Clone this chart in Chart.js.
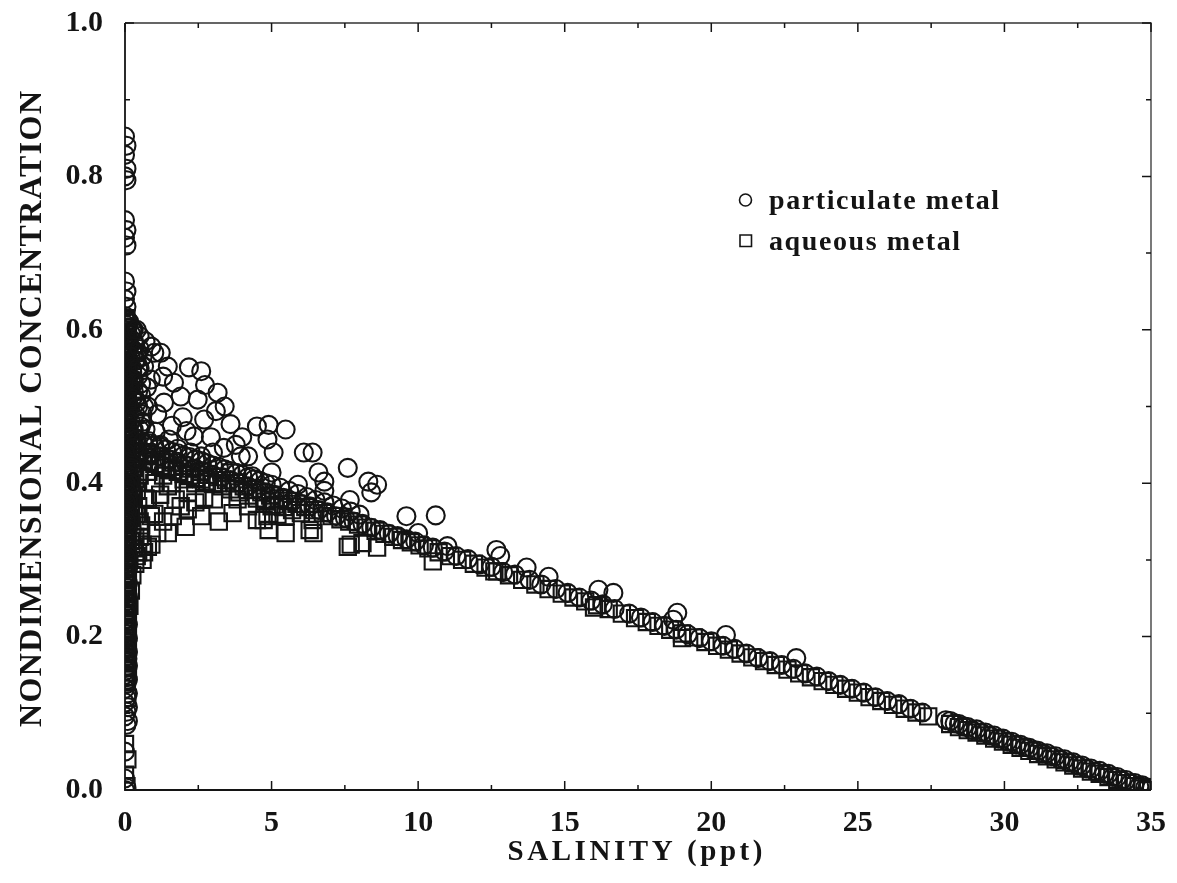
<!DOCTYPE html>
<html lang="en">
<head>
    <meta charset="UTF-8">
    <script src="https://cdn.jsdelivr.net/npm/chart.js"></script>
    <title>salinity</title>
    <style>
        body{ margin:0; background:#fff; }
        #chart_area{ width:1177px; height:883px; }
    </style>
</head>
<body>
    <div id="chart_area">
        <canvas id="mychart"></canvas>
    </div>
    <script>
        // particulate metal (circles)
        let particulateSalinity = [
            // stack at zero salinity
            0,0.05,0,0.05,0,0.05, 0,0.05,0,0.05, 0,0.05,0,0.05,
            0,0.1,0.05,0,0.1,0.05,0,0.1,0.05,0,0.1,0.05,0,0.1,0.05,0,0.1,0.05,0,0.1,0.05,0,0.1,0.05,0,0.1,0.05,0,0.1,0.05,
            0,0.1,0.05,0,0.1,0.05,0,0.1,0.05,0,0.1,0.05,0,0.1,0.05,0,0.1,0.05,0,0.1,0.05,0,0.1,0.05,0,0.1,0.05,0,0.1,0.05,
            0,0.1,0.05,0,0.1,0.05,0,0.1,0.05,0,0.1,0.05,0,0.1,0.05,0,0.1,0.05,0,0.1,0.05,0,0.1,0.05,0,0.1,0.05,0,0.1,0.05,
            0,0,0.05,0,
            0.03,0.08,0.03,0.08,0.03,0.08,0.03,0.08,0.03,0.08,0.03,0.08,0.03,0.08,0.03,0.08,0.03,0.08,0.03,0.08,
            0.03,0.08,0.03,0.08,0.03,0.08,0.03,0.08,0.03,0.08,0.03,0.08,0.03,0.08,0.03,0.08,0.03,0.08,0.03,0.08,
            0.15,0.2,0.3,0.15,0.25,0.35,0.45,0.15,0.25,0.4,0.2,0.3,0.5,0.15,0.35,0.2,0.45,0.3,0.15,0.25,0.6,0.4,0.2,0.35,0.15,
            // scatter above the mixing line
            0.3,0.5,0.7,0.9,0.35,0.6,1.0,1.22,0.45,0.65,0.88,1.3,1.46,2.18,1.67,0.3,0.55,0.78,1.9,2.48,3.16,3.1,1.33,0.35,0.6,1.97,2.7,3.6,
            0.54,1.05,1.5,2.35,2.93,3.78,4.5,4.9,5.48,4.86,5.07,4.2,2.24,3.0,3.37,3.95,6.1,6.4,6.6,6.8,7.6,8.3,8.6,8.4,9.6,10.6,
            4.35,5.0,5.9,0.3,0.8,1.2,1.8,2.6,0.25,0.4,0.2,0.2,0.75,1.1,1.6,2.1,0.9,2.73,2.6,3.4,4.0,6.8,7.67,
            0.25,0.4,0.3,0.5,0.25,0.45,0.3,0.55,0.25,0.45,0.65,0.3,0.5,0.7,0.25,
            // mixing line
            0.2,0.4,0.6,0.8,1.0,1.2,1.4,1.6,1.8,2.0,2.2,2.4,2.6,2.8,3.0,3.2,3.4,3.6,3.8,4.0,4.2,4.4,4.6,4.8,5.0,5.3,5.6,5.9,6.2,6.5,6.8,7.1,7.4,7.7,8.0,
            0.3,0.6,0.9,1.2,1.5,1.8,2.1,2.4,2.7,3.0,3.3,3.6,3.9,4.2,4.5,4.8,5.1,5.4,5.7,6.0,6.3,6.6,6.9,7.2,7.5,7.8,8.1,8.4,8.7,9.0,9.3,9.6,9.9,
            10.2,10.5,10.9,11.3,11.7,12.1,12.5,12.9,13.3,13.8,14.2,14.7,15.1,15.5,15.9,16.3,16.7,17.2,17.6,18.0,18.4,18.8,19.2,19.6,
            20.0,20.4,20.8,21.2,21.6,22.0,22.4,22.8,23.2,23.6,24.0,24.4,24.8,25.2,25.6,26.0,26.4,26.8,27.2,
            28.0,28.3,28.6,28.9,29.2,29.5,29.8,30.1,30.4,30.7,31.0,31.3,31.6,31.9,32.2,32.5,32.8,33.1,33.4,33.7,34.0,34.3,34.6,34.8,35.0,
            28.15,28.45,28.75,29.05,29.35,29.65,29.95,30.25,30.55,30.85,31.15,31.45,31.75,32.05,32.35,32.65,32.95,33.25,33.55,33.85,34.15,34.45,34.7,34.9,
            12.67,12.8,13.7,14.45,16.15,16.66,18.84,18.7,20.5,22.9,10.0,11.0
        ];
        let particulateConc = [
            0.852,0.84,0.828,0.81,0.80,0.795, 0.743,0.73,0.72,0.71, 0.663,0.65,0.64,0.63,
            0.618,0.612,0.606,0.600,0.594,0.588,0.582,0.576,0.570,0.564,0.558,0.552,0.546,0.540,0.534,0.528,0.522,0.516,0.510,0.504,0.498,0.492,0.486,0.480,0.474,0.468,0.462,0.456,0.450,0.444,
            0.438,0.432,0.426,0.420,0.414,0.408,0.402,0.396,0.390,0.384,0.378,0.372,0.366,0.360,0.354,0.348,0.342,0.336,0.330,0.324,0.318,0.312,0.306,0.300,0.294,0.288,0.282,0.276,0.270,0.264,
            0.258,0.252,0.246,0.240,0.234,0.228,0.222,0.216,0.210,0.204,0.198,0.192,0.186,0.180,0.174,0.168,0.162,0.156,0.150,0.144,0.138,0.132,0.126,0.120,0.114,0.108,0.102,0.096,0.090,0.085,
            0.05,0.015,0.003,0.0,
            0.615,0.603,0.591,0.579,0.567,0.555,0.543,0.531,0.519,0.507,0.495,0.483,0.471,0.459,0.447,0.435,0.423,0.411,0.399,0.387,
            0.375,0.363,0.351,0.339,0.327,0.315,0.303,0.291,0.279,0.267,0.255,0.243,0.231,0.219,0.207,0.195,0.183,0.171,0.159,0.147,
            0.61,0.595,0.6,0.58,0.575,0.58,0.57,0.555,0.545,0.56,0.525,0.535,0.55,0.5,0.51,0.48,0.52,0.46,0.465,0.44,0.49,0.45,0.42,0.43,0.4,
            0.585,0.592,0.585,0.578,0.56,0.565,0.57,0.57,0.54,0.552,0.535,0.539,0.552,0.551,0.531,0.52,0.515,0.5,0.513,0.509,0.518,0.494,0.505,0.49,0.48,0.486,0.483,0.477,
            0.474,0.467,0.457,0.461,0.46,0.45,0.474,0.476,0.47,0.457,0.44,0.435,0.44,0.44,0.446,0.435,0.44,0.44,0.414,0.402,0.42,0.402,0.398,0.388,0.357,0.358,
            0.409,0.414,0.398,0.47,0.455,0.45,0.445,0.435,0.45,0.505,0.535,0.565,0.525,0.49,0.475,0.468,0.44,0.528,0.546,0.5,0.46,0.39,0.378,
            0.6,0.6,0.57,0.575,0.55,0.55,0.53,0.53,0.51,0.5,0.5,0.485,0.47,0.47,0.47,
            0.459,0.457,0.454,0.452,0.449,0.447,0.444,0.441,0.439,0.436,0.434,0.431,0.429,0.426,0.423,0.421,0.418,0.416,0.413,0.411,0.408,0.405,0.403,0.400,0.398,0.394,0.390,0.386,0.382,0.378,0.375,0.371,0.367,0.363,0.359,
            0.446,0.442,0.439,0.435,0.431,0.428,0.423,0.419,0.416,0.411,0.408,0.404,0.401,0.396,0.393,0.388,0.385,0.381,0.376,0.373,0.370,0.365,0.362,0.357,0.355,0.350,0.347,0.342,0.339,0.334,0.331,0.327,0.324,
            0.319,0.316,0.311,0.305,0.301,0.294,0.291,0.284,0.281,0.274,0.268,0.262,0.257,0.251,0.247,0.242,0.236,0.230,0.225,0.219,0.214,0.209,0.203,0.198,
            0.194,0.188,0.184,0.178,0.172,0.168,0.163,0.158,0.152,0.148,0.142,0.137,0.132,0.127,0.121,0.116,0.112,0.106,0.101,
            0.091,0.087,0.083,0.078,0.075,0.071,0.067,0.063,0.059,0.056,0.052,0.048,0.044,0.040,0.036,0.032,0.028,0.024,0.021,0.017,0.013,0.009,0.005,0.003,0.001,
            0.090,0.086,0.082,0.079,0.075,0.071,0.067,0.063,0.059,0.055,0.051,0.048,0.044,0.040,0.036,0.032,0.028,0.025,0.021,0.017,0.013,0.009,0.006,0.003,
            0.313,0.305,0.29,0.278,0.261,0.257,0.231,0.222,0.202,0.172,0.335,0.318
        ];

        // aqueous metal (squares)
        let aqueousSalinity = [
            // stack at zero salinity
            0.05,0,0.1,0.05,0,0.1,0.05,0,0.1,0.05,0,0.1,0.05,0,0.1,0.05,0,0.1,0.05,0,0.1,0.05,0,0.1,0.05,0,0.1,0.05,0,0.1,
            0.05,0,0.1,0.05,0,0.1,0.05,0,0.1,0.05,0,0.1,0.05,0,0.1,0.05,0,0.1,0.05,0,0.1,0.05,0,0.1,0.05,0,0.1,0.05,0,0.1,
            0.05,0,0.1,0.05,0,0.1,0.05,0,0.1,0.05,0,0.1,0.05,0,0.1,0.05,0,0.1,0.05,
            0,0.08,0,0.08,0,0.05,
            0.15,0.25,0.35,0.2,0.3,0.45,0.15,0.25,0.4,0.55,0.2,0.3,0.5,0.65,0.15,0.35,0.45,0.25,0.2,0.15,
            // scatter below the mixing line
            0.3,0.5,0.8,1.0,1.3,1.6,2.0,2.4,0.4,0.7,1.2,0.3,0.5,0.35,0.6,0.4,1.0,1.3,0.9,0.78,0.88,1.1,0.78,1.46,1.73,1.63,1.46,0.6,
            2.14,3.16,3.6,2.7,3.03,2.14,2.6,3.2,3.67,2.07,3.84,4.5,4.86,4.9,5.48,5.48,6.3,6.4,7.6,8.1,8.6,10.5,4.73,5.2,6.43,7.7,
            12.6,16.0,19.0,1.9,2.4,4.2,5.0,0.2,0.25,0.2,0.25,0.3,0.4,
            // mixing line
            0.2,0.4,0.6,0.8,1.0,1.2,1.4,1.6,1.8,2.0,2.2,2.4,2.6,2.8,3.0,3.3,3.6,3.9,4.2,4.5,4.8,5.1,5.4,5.7,6.0,
            0.45,0.75,1.05,1.35,1.65,1.95,2.25,2.55,2.85,3.15,3.45,3.75,4.05,4.35,4.65,4.95,5.25,5.55,5.85,6.15,6.45,6.75,7.05,7.35,7.65,7.95,
            8.25,8.55,8.85,9.15,9.45,9.75,10.05,10.35,10.7,11.1,11.5,11.9,12.3,12.7,13.1,13.55,14.0,14.45,14.9,15.3,15.7,16.1,16.5,16.95,
            17.4,17.8,18.2,18.6,19.0,19.4,19.8,20.2,20.6,21.0,21.4,21.8,22.2,22.6,23.0,23.4,23.8,24.2,24.6,25.0,25.4,25.8,26.2,26.6,27.0,27.4,
            28.15,28.45,28.75,29.05,29.35,29.65,29.95,30.25,30.55,30.85,31.15,31.45,31.75,32.05,32.35,32.65,32.95,33.25,33.55,33.85,34.15,34.45,34.7,34.9
        ];
        let aqueousConc = [
            0.615,0.609,0.603,0.597,0.591,0.585,0.579,0.573,0.567,0.561,0.555,0.549,0.543,0.537,0.531,0.525,0.519,0.513,0.507,0.501,0.495,0.489,0.483,0.477,0.471,0.465,0.459,0.453,0.447,0.441,
            0.435,0.429,0.423,0.417,0.411,0.405,0.399,0.393,0.387,0.381,0.375,0.369,0.363,0.357,0.351,0.345,0.339,0.333,0.327,0.321,0.315,0.309,0.303,0.297,0.291,0.285,0.279,0.273,0.267,0.261,
            0.255,0.249,0.243,0.237,0.231,0.225,0.219,0.213,0.207,0.201,0.195,0.189,0.183,0.177,0.171,0.165,0.159,0.153,0.147,
            0.14,0.12,0.06,0.04,0.02,0.005,
            0.41,0.395,0.405,0.375,0.385,0.37,0.355,0.345,0.36,0.345,0.325,0.315,0.33,0.31,0.3,0.295,0.31,0.28,0.26,0.24,
            0.42,0.41,0.415,0.40,0.41,0.40,0.405,0.40,0.39,0.38,0.385,0.37,0.35,0.33,0.32,0.305,0.36,0.35,0.32,0.379,0.357,0.335,0.317,0.396,0.379,0.357,0.335,0.30,
            0.388,0.40,0.414,0.381,0.379,0.366,0.357,0.35,0.361,0.343,0.379,0.352,0.357,0.339,0.335,0.357,0.339,0.352,0.317,0.322,0.316,0.298,0.352,0.359,0.335,0.32,
            0.285,0.238,0.198,0.37,0.375,0.37,0.37,0.40,0.38,0.355,0.33,0.45,0.44,
            0.435,0.433,0.430,0.428,0.425,0.423,0.420,0.417,0.415,0.412,0.410,0.407,0.405,0.402,0.399,0.396,0.392,0.388,0.384,0.380,0.376,0.372,0.369,0.365,0.361,
            0.442,0.438,0.435,0.431,0.427,0.423,0.419,0.415,0.411,0.408,0.404,0.400,0.396,0.392,0.388,0.384,0.380,0.377,0.373,0.369,0.365,0.361,0.357,0.353,0.350,0.346,
            0.342,0.338,0.334,0.330,0.326,0.323,0.319,0.315,0.310,0.305,0.300,0.295,0.290,0.285,0.280,0.274,0.268,0.262,0.256,0.251,0.246,0.241,0.236,0.230,
            0.224,0.219,0.214,0.209,0.204,0.199,0.193,0.188,0.183,0.178,0.173,0.168,0.163,0.157,0.152,0.147,0.142,0.137,0.132,0.127,0.121,0.116,0.111,0.106,0.101,0.096,
            0.086,0.082,0.078,0.075,0.071,0.067,0.063,0.059,0.055,0.051,0.047,0.044,0.040,0.036,0.032,0.028,0.024,0.021,0.017,0.013,0.009,0.005,0.002,0.000
        ];

        let xTitle = "SALINITY (ppt)";
        let yTitle = "NONDIMENSIONAL CONCENTRATION";
        let legendLabels = ["particulate metal", "aqueous metal"];

        const serif = "'Liberation Serif', 'Times New Roman', serif";
        const ink = "#141414";

        function toPoints(xs, ys){
            return xs.map((x, i) => ({x: x, y: ys[i]}));
        }

        function spacedText(ctx, text, x, y, target){
            ctx.letterSpacing = "0px";
            let w = ctx.measureText(text).width;
            let ls = (target - w) / (text.length - 1);
            ctx.letterSpacing = ls + "px";
            ctx.textAlign = "left";
            ctx.fillText(text, x - target / 2, y);
            ctx.letterSpacing = "0px";
        }

        // frame and inward ticks on all four sides
        const framePlugin = {
            id: "frame",
            beforeDatasetsDraw(chart){
                const ctx = chart.ctx;
                const a = chart.chartArea;
                const xs = chart.scales.x, ys = chart.scales.y;
                ctx.save();
                ctx.strokeStyle = ink;
                ctx.lineWidth = 1.8;
                ctx.beginPath();
                ctx.moveTo(a.left, a.top); ctx.lineTo(a.left, a.bottom); ctx.lineTo(a.right, a.bottom);
                ctx.stroke();
                ctx.strokeStyle = "#333";
                ctx.lineWidth = 1.3;
                ctx.beginPath();
                ctx.moveTo(a.left, a.top); ctx.lineTo(a.right, a.top); ctx.lineTo(a.right, a.bottom);
                ctx.stroke();
                ctx.lineWidth = 1.5;
                ctx.strokeStyle = ink;
                for(let v = 0; v <= 35.001; v += 2.5){
                    let px = xs.getPixelForValue(v);
                    let len = (Math.round(v * 10) % 50 === 0) ? 9 : 5;
                    ctx.beginPath();
                    ctx.moveTo(px, a.bottom); ctx.lineTo(px, a.bottom - len);
                    ctx.moveTo(px, a.top); ctx.lineTo(px, a.top + len);
                    ctx.stroke();
                }
                for(let k = 0; k <= 10; k++){
                    let py = ys.getPixelForValue(k / 10);
                    let len = (k % 2 === 0) ? 9 : 5;
                    ctx.beginPath();
                    ctx.moveTo(a.left, py); ctx.lineTo(a.left + len, py);
                    ctx.moveTo(a.right, py); ctx.lineTo(a.right - len, py);
                    ctx.stroke();
                }
                ctx.restore();
            },
            afterDraw(chart){
                const ctx = chart.ctx;
                ctx.save();
                ctx.fillStyle = ink;
                ctx.textBaseline = "alphabetic";
                // axis titles
                ctx.font = "bold 29px " + serif;
                spacedText(ctx, xTitle, 635, 860, 255);
                ctx.save();
                ctx.translate(41, 409);
                ctx.rotate(-Math.PI / 2);
                ctx.font = "bold 32px " + serif;
                spacedText(ctx, yTitle, 0, 0, 636);
                ctx.restore();
                // legend
                ctx.strokeStyle = ink;
                ctx.lineWidth = 1.6;
                ctx.beginPath();
                ctx.arc(745.5, 200, 6, 0, Math.PI * 2);
                ctx.stroke();
                ctx.beginPath();
                ctx.rect(740, 235, 11.5, 11.5);
                ctx.stroke();
                ctx.font = "bold 28px " + serif;
                ctx.textAlign = "left";
                ctx.letterSpacing = "1.6px";
                ctx.fillText(legendLabels[0], 769, 209);
                ctx.fillText(legendLabels[1], 769, 250);
                ctx.restore();
            }
        };

        let ctx = document.querySelector("#mychart");
        let config = {
            type: "scatter",
            data: {
                datasets: [
                    {
                        label: legendLabels[0],
                        data: toPoints(particulateSalinity, particulateConc),
                        pointStyle: "circle",
                        pointRadius: 9,
                        pointHoverRadius: 9,
                        borderWidth: 2.1,
                        borderColor: ink,
                        backgroundColor: "rgba(0,0,0,0)",
                    },
                    {
                        label: legendLabels[1],
                        data: toPoints(aqueousSalinity, aqueousConc),
                        pointStyle: "rect",
                        pointRadius: 11.5,
                        pointHoverRadius: 11.5,
                        borderWidth: 2.1,
                        borderColor: ink,
                        backgroundColor: "rgba(0,0,0,0)",
                    },
                ]
            },
            options: {
                responsive: true,
                maintainAspectRatio: false,
                animation: false,
                events: [],
                layout: { padding: { left: 0, right: 26, top: 23, bottom: 0 } },
                plugins: {
                    legend: { display: false },
                    tooltip: { enabled: false },
                },
                scales: {
                    x: {
                        type: "linear",
                        min: 0, max: 35,
                        grid: { display: false, drawTicks: false },
                        border: { display: false },
                        ticks: {
                            stepSize: 5,
                            padding: 15,
                            color: ink,
                            font: { family: serif, size: 30, weight: "bold" },
                        },
                        afterFit(scale){
                            scale.height = 93;
                            scale.paddingLeft = 0; scale.paddingRight = 0;
                        }
                    },
                    y: {
                        type: "linear",
                        min: 0, max: 1,
                        grid: { display: false, drawTicks: false },
                        border: { display: false },
                        ticks: {
                            stepSize: 0.2,
                            padding: 22,
                            color: ink,
                            font: { family: serif, size: 30, weight: "bold" },
                            callback: v => v.toFixed(1),
                        },
                        afterFit(scale){
                            scale.width = 125;
                            scale.paddingTop = 0; scale.paddingBottom = 0;
                        }
                    }
                }
            },
            plugins: [framePlugin]
        };
        let chart = new Chart(ctx, config);
    </script>
</body>
</html>
